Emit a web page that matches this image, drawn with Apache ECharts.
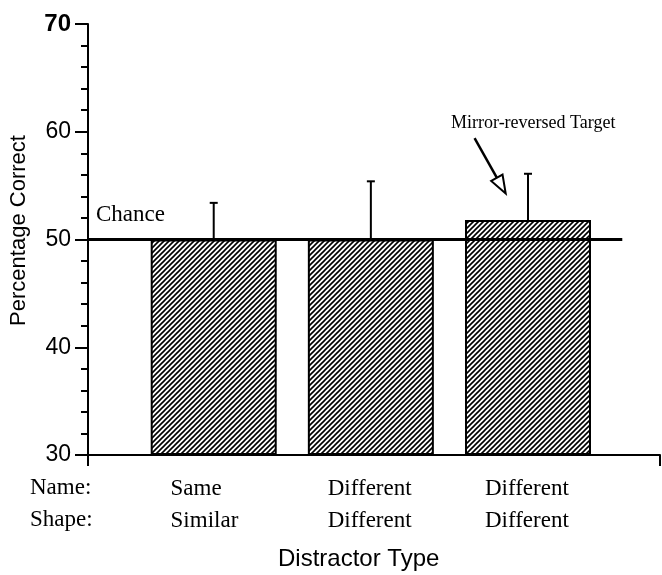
<!DOCTYPE html>
<html>
<head>
<meta charset="utf-8">
<style>
  html, body { margin: 0; padding: 0; background: #fff; }
  #chart { width: 662px; height: 575px; }
</style>
<script src="https://cdn.jsdelivr.net/npm/echarts@6/dist/echarts.min.js"></script>
</head>
<body>
<div id="chart"></div>
<script>
// Distractor conditions
const namePairs = ['Same', 'Different', 'Different'];
const shapePairs = ['Similar', 'Different', 'Different'];
// Bar positions along the x value axis
const barPositions = [1, 2, 3];
// Mean percentage correct and top of the error bar for each condition
const meanCorrect = [50, 50, 51.8];
const errorTop = [53.4, 55.4, 56.1];
// Chance level
const chanceLevel = 50;
// Annotation arrow (start, end) in data units
const arrowFrom = [2.66, 59.4];
const arrowTo = [2.83, 55.0];

const SERIF = '"Liberation Serif", "Times New Roman", serif';
const SANS = '"Liberation Sans", Arial, sans-serif';

// Diagonal hatch fill for the bars
function makeHatch() {
  const s = 5;
  const c = document.createElement('canvas');
  c.width = s; c.height = s;
  const ctx = c.getContext('2d');
  ctx.fillStyle = '#fff';
  ctx.fillRect(0, 0, s, s);
  ctx.strokeStyle = '#000';
  ctx.lineWidth = 1.6;
  ctx.beginPath();
  ctx.moveTo(-1, s + 1); ctx.lineTo(s + 1, -1);
  ctx.moveTo(-1, 1); ctx.lineTo(1, -1);
  ctx.moveTo(s - 1, s + 1); ctx.lineTo(s + 1, s - 1);
  ctx.stroke();
  return c;
}

const chart = echarts.init(document.getElementById('chart'), null, { renderer: 'canvas' });

const barData = barPositions.map((x, i) => [x, meanCorrect[i]]);
const errData = barPositions.map((x, i) => [x, meanCorrect[i], errorTop[i]]);

const option = {
  animation: false,
  backgroundColor: '#fff',
  grid: [
    { left: 88, right: 2, top: 24, bottom: 120, containLabel: false },
    { left: 135, right: 55.5, top: 24, bottom: 120, containLabel: false }
  ],
  xAxis: [
    {
      type: 'value', gridIndex: 0, min: 0.2, max: 3.84,
      axisLine: { show: true, lineStyle: { color: '#000', width: 2 } },
      axisTick: { show: true, customValues: [0.2, 3.84], length: 11, lineStyle: { color: '#000', width: 2 } },
      axisLabel: { show: false },
      splitLine: { show: false }
    },
    {
      type: 'category', gridIndex: 1, data: namePairs.map((n, i) => n + '|' + shapePairs[i]),
      axisLine: { show: false }, axisTick: { show: false }, splitLine: { show: false },
      axisLabel: {
        margin: 18,
        interval: 0,
        formatter: function (v, i) {
          return '{a|' + namePairs[i] + '}\n{a|' + shapePairs[i] + '}';
        },
        rich: {
          a: { width: 86, align: 'left', fontFamily: SERIF, fontSize: 23, lineHeight: 32, color: '#000' }
        }
      }
    }
  ],
  yAxis: [
    {
      type: 'value', gridIndex: 0, min: 30, max: 70, interval: 10, startValue: 30,
      name: 'Percentage Correct', nameLocation: 'middle', nameGap: 58,
      nameTextStyle: { fontFamily: SANS, fontSize: 22, color: '#000', padding: [0, 0, 0, 18] },
      axisLine: { show: true, lineStyle: { color: '#000', width: 2 } },
      axisTick: { show: true, length: 13, lineStyle: { color: '#000', width: 2 } },
      minorTick: { show: true, splitNumber: 5, length: 7, lineStyle: { color: '#000', width: 2 } },
      splitLine: { show: false },
      axisLabel: {
        margin: 17,
        fontFamily: SANS, fontSize: 23, color: '#000',
        formatter: function (v) { return v === 70 ? '{b|70}' : String(v); },
        rich: { b: { fontFamily: SANS, fontSize: 24, fontWeight: 'bold', color: '#000' } }
      }
    },
    {
      type: 'value', gridIndex: 1, min: 30, max: 70, show: false
    }
  ],
  series: [
    {
      name: 'Percentage correct',
      type: 'bar',
      xAxisIndex: 0, yAxisIndex: 0,
      data: barData,
      barWidth: 126,
      itemStyle: {
        color: { image: makeHatch(), repeat: 'repeat' },
        borderColor: '#000',
        borderWidth: 2
      },
      z: 2
    },
    {
      name: 'Chance',
      type: 'line',
      xAxisIndex: 0, yAxisIndex: 0,
      data: [[0.2, chanceLevel], [3.6, chanceLevel]],
      symbol: 'none',
      lineStyle: { color: '#000', width: 3 },
      z: 4,
      markLine: {
        silent: true,
        animation: false,
        label: { show: false },
        lineStyle: { color: '#000', width: 2.5, type: 'solid' },
        data: [[
          { coord: arrowFrom, symbol: 'none' },
          { coord: arrowTo, symbol: 'emptyTriangle', symbolSize: [13, 18] }
        ]]
      }
    },
    {
      name: 'Error',
      type: 'custom',
      xAxisIndex: 0, yAxisIndex: 0,
      data: errData,
      encode: { x: 0, y: [1, 2] },
      z: 5,
      renderItem: function (params, api) {
        const x = api.value(0);
        const p0 = api.coord([x, api.value(1)]);
        const p1 = api.coord([x, api.value(2)]);
        const half = 4;
        const st = { stroke: '#000', lineWidth: 2 };
        return {
          type: 'group',
          children: [
            { type: 'line', shape: { x1: p0[0], y1: p0[1], x2: p1[0], y2: p1[1] }, style: st },
            { type: 'line', shape: { x1: p1[0] - half, y1: p1[1], x2: p1[0] + half, y2: p1[1] }, style: st }
          ]
        };
      }
    }
  ],
  graphic: [
    { type: 'text', left: 96, top: 203, style: { text: 'Chance', font: '23px ' + SERIF, fill: '#000' } },
    { type: 'text', left: 451, top: 114, style: { text: 'Mirror-reversed Target', font: '18px ' + SERIF, fill: '#000' } },
    { type: 'text', left: 30, top: 476, style: { text: 'Name:', font: '23px ' + SERIF, fill: '#000' } },
    { type: 'text', left: 30, top: 508, style: { text: 'Shape:', font: '23px ' + SERIF, fill: '#000' } },
    { type: 'text', left: 278, top: 547, style: { text: 'Distractor Type', font: '24px ' + SANS, fill: '#000' } }
  ]
};

chart.setOption(option);
</script>
</body>
</html>
